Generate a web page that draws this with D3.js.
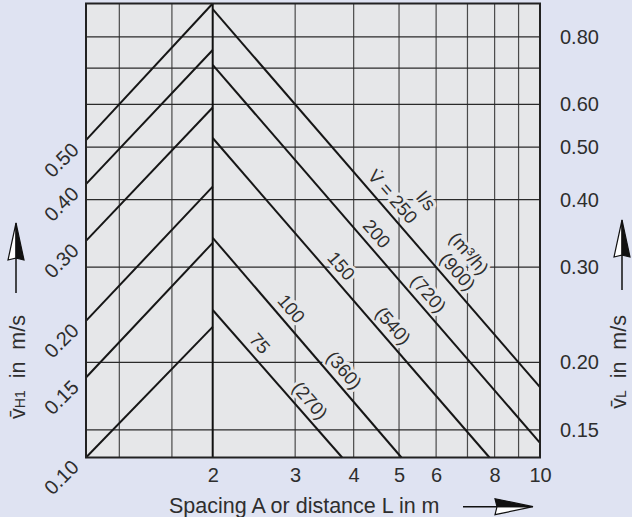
<!DOCTYPE html>
<html>
<head>
<meta charset="utf-8">
<script src="https://cdn.jsdelivr.net/npm/d3@7"></script>
<style>
body { margin: 0; background: #dfe3f2; }
svg { display: block; font-family: "Liberation Sans", Arial, sans-serif; }
</style>
</head>
<body>
<div id="chart"></div>
<script>
// grid values
var gridLeftA = [1.2, 1.6];
var gridRightL = [3, 4, 5, 6, 7, 8, 9];
var gridV = [0.15, 0.2, 0.3, 0.4, 0.5, 0.6, 0.7, 0.8];

// tick labels
var xTicks = [2, 3, 4, 5, 6, 8, 10];
var rightTicks = [0.15, 0.2, 0.3, 0.4, 0.5, 0.6, 0.8];
var leftTicks = [0.10, 0.15, 0.20, 0.30, 0.40, 0.50];

// left half: v_H1 going from A = 1 up to A = 2
var hStartV = [0.50, 0.40, 0.30, 0.20, 0.15, 0.10];
var hEndV = [1.00, 0.79, 0.59, 0.395, 0.297, 0.194];

// right half: v_L from L = 2 until the line leaves the grid
var flowLs = [250, 200, 150, 100, 75];
var flowM3h = [900, 720, 540, 360, 270];
var lStartV = [0.90, 0.71, 0.52, 0.34, 0.25];
var lEndL = [10, 10, 7.8, 5.06, 3.78];
var lEndV = [0.18, 0.142, 0.1334, 0.1334, 0.1334];

var W = 632, H = 517;
var margin = {top: 3.5, right: 92, bottom: 59.5, left: 86};
var width = W - margin.left - margin.right;
var height = H - margin.top - margin.bottom;
var textCol = "#2e2e2e";
var plotBg = "#e6e7e9";

var svg = d3.select("#chart").append("svg")
    .attr("width", W)
    .attr("height", H);

var g = svg.append("g")
    .attr("transform", "translate(" + margin.left + "," + margin.top + ")");

// the x axis is split at 2 m, each side has its own log scale
var xSplit = 126.7;
var xLeft = d3.scaleLog().domain([1, 2]).range([0, xSplit]);
var xRight = d3.scaleLog().domain([2, 10]).range([xSplit, width]);
var yLeft = d3.scaleLog().domain([0.1, 1.0]).range([height, 0]);
var yRight = d3.scaleLog().domain([0.1334, 0.922]).range([height, 0]);

g.append("rect")
    .attr("width", width)
    .attr("height", height)
    .attr("fill", plotBg);

// grid
g.append("g").selectAll("line")
    .data(gridLeftA.map(xLeft).concat(gridRightL.map(xRight)))
    .enter().append("line")
    .attr("x1", function(d) { return d; })
    .attr("x2", function(d) { return d; })
    .attr("y1", 0)
    .attr("y2", height)
    .attr("stroke", "#4a4a4a")
    .attr("stroke-width", 1.2);

g.append("g").selectAll("line")
    .data(gridV)
    .enter().append("line")
    .attr("x1", 0)
    .attr("x2", width)
    .attr("y1", function(d) { return yRight(d); })
    .attr("y2", function(d) { return yRight(d); })
    .attr("stroke", "#2a2a2a")
    .attr("stroke-width", 1.2);

g.append("line")
    .attr("x1", xSplit).attr("x2", xSplit)
    .attr("y1", 0).attr("y2", height)
    .attr("stroke", "#111")
    .attr("stroke-width", 2);

// helpers for the right hand lines
function pointAt(i, L) {
    var t = Math.log(L / 2) / Math.log(lEndL[i] / 2);
    var v = Math.exp(Math.log(lStartV[i]) + t * (Math.log(lEndV[i]) - Math.log(lStartV[i])));
    return [xRight(L), yRight(v)];
}
function angleOf(i) {
    var a = pointAt(i, 2), b = pointAt(i, lEndL[i]);
    return Math.atan2(b[1] - a[1], b[0] - a[0]);
}

// labels (drawn before the lines so the halo only cuts the grid)
var labels = [];
flowLs.forEach(function(f, i) {
    labels.push({i: i, text: (i === 0 ? "V\u0307 = " : "") + f, L: [4.61, 4.26, 3.58, 2.80, 2.40][i], off: 13.5});
    labels.push({i: i, text: "(" + flowM3h[i] + ")", L: [6.35, 5.50, 4.62, 3.63, 3.07][i], off: 13.5});
});
labels.push({i: 0, text: "l/s", L: 5.0, off: 36});
labels.push({i: 0, text: "(m\u00b3/h)", L: 6.22, off: 34});

g.append("g").selectAll("text")
    .data(labels)
    .enter().append("text")
    .attr("transform", function(d) {
        var p = pointAt(d.i, d.L);
        var a = angleOf(d.i);
        var cx = p[0] + Math.sin(a) * d.off;
        var cy = p[1] - Math.cos(a) * d.off;
        return "translate(" + cx + "," + cy + ") rotate(" + (a * 180 / Math.PI) + ")";
    })
    .attr("text-anchor", "middle")
    .attr("dy", "0.35em")
    .attr("font-size", 18.5)
    .attr("fill", textCol)
    .attr("stroke", plotBg)
    .attr("stroke-width", 6)
    .attr("stroke-linejoin", "round")
    .attr("paint-order", "stroke")
    .text(function(d) { return d.text; });

// lines
var lineLeft = d3.line()
    .x(function(d) { return xLeft(d[0]); })
    .y(function(d) { return yLeft(d[1]); });
var lineRight = d3.line()
    .x(function(d) { return xRight(d[0]); })
    .y(function(d) { return yRight(d[1]); });

g.append("g").selectAll("path")
    .data(hStartV.map(function(v, i) { return [[1, v], [2, hEndV[i]]]; }))
    .enter().append("path")
    .attr("d", lineLeft)
    .attr("fill", "none")
    .attr("stroke", "#161616")
    .attr("stroke-width", 2);

g.append("g").selectAll("path")
    .data(lStartV.map(function(v, i) { return [[2, v], [lEndL[i], lEndV[i]]]; }))
    .enter().append("path")
    .attr("d", lineRight)
    .attr("fill", "none")
    .attr("stroke", "#161616")
    .attr("stroke-width", 2);

g.append("rect")
    .attr("width", width)
    .attr("height", height)
    .attr("fill", "none")
    .attr("stroke", "#222")
    .attr("stroke-width", 2);

// axes
var xAxis = g.append("g")
    .attr("transform", "translate(0," + height + ")")
    .call(d3.axisBottom(xRight).tickValues(xTicks).tickFormat(d3.format("d")).tickSize(0).tickPadding(10));
var yAxis = g.append("g")
    .attr("transform", "translate(" + width + ",0)")
    .call(d3.axisRight(yRight).tickValues(rightTicks).tickFormat(d3.format(".2f")).tickSize(0).tickPadding(20));
[xAxis, yAxis].forEach(function(a) {
    a.select(".domain").remove();
    a.selectAll("text")
        .attr("font-size", 20)
        .attr("font-family", "Liberation Sans, Arial, sans-serif")
        .attr("fill", textCol);
});

g.append("g").selectAll("text")
    .data(leftTicks)
    .enter().append("text")
    .attr("transform", function(d) { return "translate(-6," + (yLeft(d) + 11) + ") rotate(-45)"; })
    .attr("text-anchor", "end")
    .attr("font-size", 20)
    .attr("fill", textCol)
    .text(d3.format(".2f"));

// axis titles
svg.append("text")
    .attr("x", 169)
    .attr("y", 513)
    .attr("font-size", 21.5)
    .attr("fill", textCol)
    .text("Spacing A or distance L in m");

function vTitle(x, sub) {
    var t = svg.append("text")
        .attr("transform", "translate(" + x + ",315) rotate(-90)")
        .attr("text-anchor", "end")
        .attr("font-size", 21.5)
        .attr("fill", textCol)
        .style("white-space", "pre");
    t.append("tspan").text("v\u0304");
    t.append("tspan").attr("font-size", 14).text(sub);
    t.append("tspan").text("  in  m/s");
}
vTitle(25, "H1");
vTitle(626, "L");

// arrows: one half of the head white, the other black
function arrowUp(x, top) {
    svg.append("line")
        .attr("x1", x).attr("x2", x)
        .attr("y1", top + 34).attr("y2", top + 70)
        .attr("stroke", "#111").attr("stroke-width", 1.5);
    svg.append("path")
        .attr("d", "M" + x + "," + top + "L" + (x - 8) + "," + (top + 37) + "L" + x + "," + (top + 35) + "Z")
        .attr("fill", "#fff").attr("stroke", "#111").attr("stroke-width", 1.2);
    svg.append("path")
        .attr("d", "M" + x + "," + top + "L" + (x + 8) + "," + (top + 37) + "L" + x + "," + (top + 35) + "Z")
        .attr("fill", "#111").attr("stroke", "#111").attr("stroke-width", 1.2);
}
arrowUp(16, 223);
arrowUp(622, 220);

var ay = 506.7, ax = 533;
svg.append("line")
    .attr("x1", 463).attr("x2", ax - 36)
    .attr("y1", ay).attr("y2", ay)
    .attr("stroke", "#111").attr("stroke-width", 1.5);
svg.append("path")
    .attr("d", "M" + ax + "," + ay + "L" + (ax - 38) + "," + (ay + 8) + "L" + (ax - 36) + "," + ay + "Z")
    .attr("fill", "#fff").attr("stroke", "#111").attr("stroke-width", 1.2);
svg.append("path")
    .attr("d", "M" + ax + "," + ay + "L" + (ax - 38) + "," + (ay - 8) + "L" + (ax - 36) + "," + ay + "Z")
    .attr("fill", "#111").attr("stroke", "#111").attr("stroke-width", 1.2);
</script>
</body>
</html>
